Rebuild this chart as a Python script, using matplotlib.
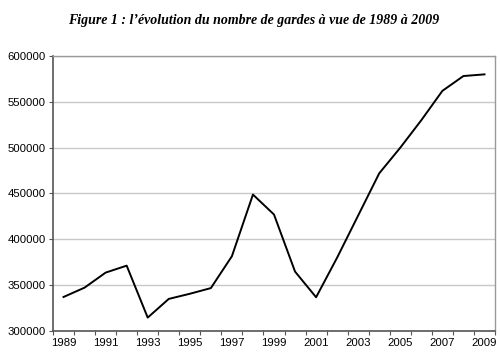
import matplotlib.pyplot as plt
import numpy as np

plt.rcParams['font.family'] = ['Liberation Sans', 'DejaVu Sans']

years = list(range(1989, 2010))
gardes = [337000, 347200, 363600, 371200, 314500, 334900, 340500, 346700,
          381500, 448800, 427000, 364700, 336700, 380000, 426000, 472000,
          500000, 530000, 562000, 578200, 580000]
year_labels = [str(y) for y in years[::2]]

fig = plt.figure(figsize=(5, 3.64), dpi=100)
ax = fig.add_axes([0.106, 0.091, 0.884, 0.755])

x = np.arange(len(years)) + 0.5
ax.plot(x, gardes, color='black', linewidth=1.4)

ax.set_xlim(0, len(years))
ax.set_ylim(300000, 600000)
ax.set_yticks(np.arange(300000, 600001, 50000))
ax.grid(axis='y', color='#c8c8c8', linewidth=1)
ax.set_axisbelow(True)

# category axis: ticks between years, labels on every other year
ax.set_xticks(np.arange(0, len(years) + 1))
ax.set_xticklabels([])
ax.set_xticks(x[::2], minor=True)
ax.set_xticklabels(year_labels, minor=True)
ax.tick_params(axis='x', which='major', length=3, color='#555555')
ax.tick_params(axis='x', which='minor', length=0, pad=5, labelsize=8.2)
ax.tick_params(axis='y', length=3, color='#555555', labelsize=8.2, pad=2)

for side in ['left', 'bottom']:
    ax.spines[side].set_color('#555555')
    ax.spines[side].set_linewidth(1.2)
for side in ['top', 'right']:
    ax.spines[side].set_color('#999999')
    ax.spines[side].set_linewidth(1)

fig.text(0.508, 0.945, "Figure 1 : l\u2019\u00e9volution du nombre de gardes \u00e0 vue de 1989 \u00e0 2009",
         ha='center', va='center', fontsize=10, fontweight='bold', fontstyle='italic',
         family=['Liberation Serif', 'DejaVu Serif'])

fig.savefig('out.png', dpi=100)
